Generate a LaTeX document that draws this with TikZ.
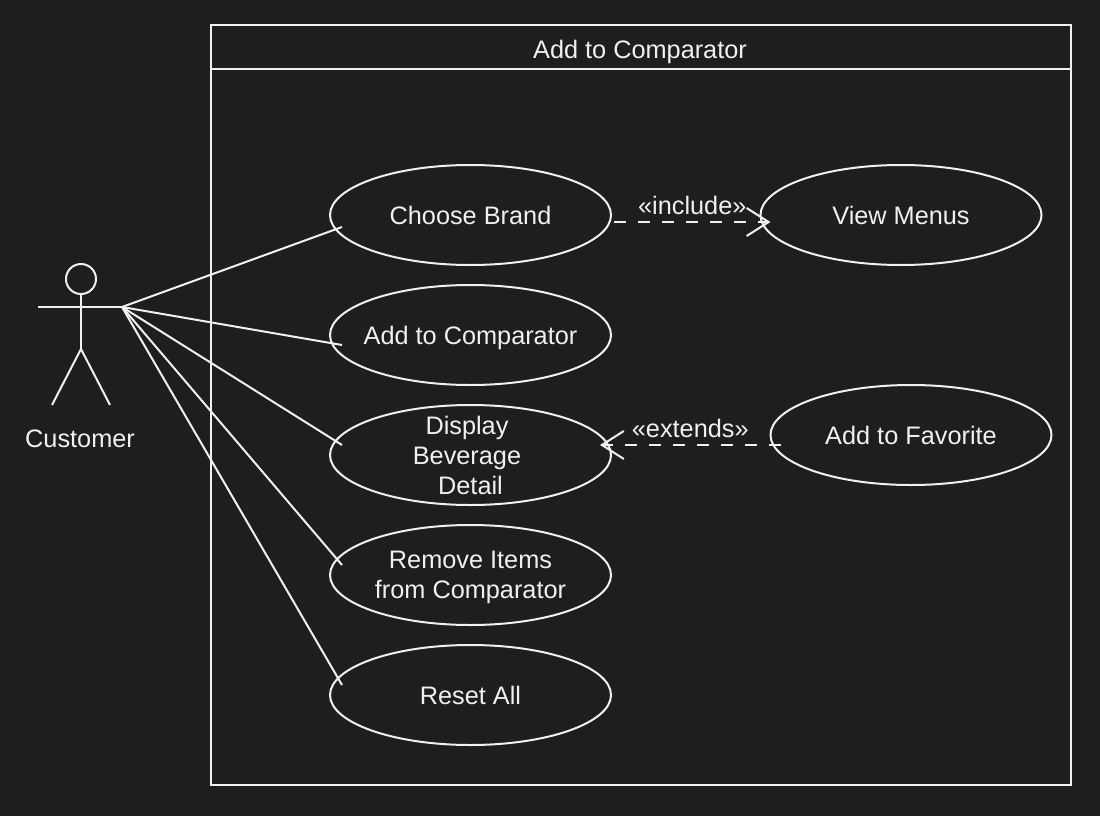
\documentclass[tikz,border=0pt]{standalone}
\usepackage{fontspec}
\setmainfont{Liberation Sans}
\usetikzlibrary{shapes.geometric,arrows.meta,positioning}

\definecolor{canvas}{HTML}{1E1E1E}
\definecolor{ink}{HTML}{F0F0F0}

\tikzset{
    usecase/.style={draw=ink, ellipse, minimum width=281pt, minimum height=100pt,
        inner sep=-12pt, outer sep=0pt, align=center, text depth=0pt},
    sysbox/.style={draw=ink, rectangle, inner sep=0pt, outer sep=0pt},
    assoc/.style={draw=ink},
    depend/.style={draw=ink, dash pattern=on 12pt off 12pt,
        -{Straight Barb[length=22pt,width=28pt,line width=2pt]}},
    deplabel/.style={midway, above=4.5pt, inner sep=2pt}
}

\begin{document}
\begin{tikzpicture}[x=1pt, y=-1pt, line width=2pt, text=ink,
        font=\fontsize{25.3}{30}\selectfont]

    % canvas
    \fill[canvas] (0,0) rectangle (1100,816);
    \useasboundingbox (0,0) rectangle (1100,816);

    % system boundary
    \node[sysbox, minimum width=860pt, minimum height=760pt] (system) at (641,405) {};
    \node[sysbox, minimum width=860pt, minimum height=44pt] (title) at (641,47) {};
    \node[inner sep=0pt, text depth=0pt] (titletext) at (640,49) {Add to Comparator};

    % actor
    \node[draw=ink, circle, minimum size=30pt, inner sep=0pt, outer sep=0pt] (head) at (81,279) {};
    \coordinate (arm_left) at (38,307);
    \coordinate (hand) at (122,307);
    \coordinate (hip) at (81,349);
    \coordinate (foot_left) at (52,405);
    \coordinate (foot_right) at (110,405);
    \draw[assoc] (head.south) -- (hip);
    \draw[assoc] (arm_left) -- (hand);
    \draw[assoc] (foot_left) -- (hip) -- (foot_right);
    \node[inner sep=0pt] (customer) at (80,439) {Customer};

    % use cases
    \node[usecase] (brand) at (470.5,215) {Choose Brand};
    \node[usecase] (comparator) at (470.5,335) {Add to Comparator};
    \node[usecase] (detail) at (470.5,455) {\mbox{Display~}\\\mbox{Beverage~}\\Detail};
    \node[usecase] (remove) at (470.5,575) {Remove Items\\from Comparator};
    \node[usecase] (reset) at (470.5,695) {Reset All};
    \node[usecase] (menus) at (901,215) {View Menus};
    \node[usecase] (favorite) at (911,435) {Add to Favorite};

    % associations
    \draw[assoc] (hand) -- ([xshift=12pt,yshift=-12pt]brand.west);
    \draw[assoc] (hand) -- ([xshift=12pt,yshift=-10pt]comparator.west);
    \draw[assoc] (hand) -- ([xshift=12pt,yshift=10pt]detail.west);
    \draw[assoc] (hand) -- ([xshift=12pt,yshift=10pt]remove.west);
    \draw[assoc] (hand) -- ([xshift=12pt,yshift=10pt]reset.west);

    % include
    \draw[depend] ([xshift=3pt,yshift=-7pt]brand.east) --
        node[deplabel] (includelabel) {«include»}
        ([xshift=10pt,yshift=-7pt]menus.west);

    % extends
    \draw[depend] ([xshift=10pt,yshift=-10pt]favorite.west) --
        node[deplabel] (extendslabel) {«extends»}
        ([xshift=-11pt,yshift=10pt]detail.east);

\end{tikzpicture}
\end{document}
